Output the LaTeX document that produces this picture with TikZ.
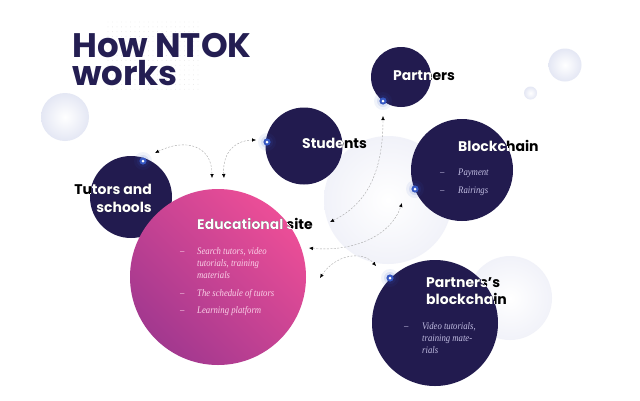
\documentclass[tikz,border=0pt]{standalone}
\usepackage{fontspec}
\newfontfamily\headfont{Poppins}
\newfontfamily\itemfont{Liberation Serif}[FakeStretch=0.87]
\usetikzlibrary{arrows.meta}
\definecolor{navy}{HTML}{221B4F}
\definecolor{titlec}{HTML}{241E52}
\definecolor{pinkA}{HTML}{EC4E97}
\definecolor{pinkB}{HTML}{A2388F}
\definecolor{itemP}{HTML}{FAD2E8}
\definecolor{itemN}{HTML}{C2BEE2}
\definecolor{dotblue}{HTML}{3557C2}
\definecolor{sphere}{HTML}{E4E7F4}
\definecolor{sphereL}{HTML}{F1F2F9}
\tikzset{
  bubble/.style={circle, draw=none, fill=navy, inner sep=0pt},
  lab/.style={font=\headfont\bfseries\fontsize{14}{16}\selectfont, inner sep=0pt, anchor=base west},
  item/.style={font=\itemfont\itshape\fontsize{10}{11}\selectfont, inner sep=0pt, anchor=base west},
  link/.style={draw=gray!70, line width=0.4pt, dash pattern=on 2pt off 1.5pt,
    {Latex[length=4pt,width=3.5pt,black]}-{Latex[length=4pt,width=3.5pt,black]}},
  ball/.style={inner color=white, outer color=sphere},
  softball/.style={inner color=white, outer color=sphereL},
}
\newcommand{\hotdot}[1]{%
  \fill[dotblue, opacity=0.07] (#1) circle (9);
  \fill[dotblue, opacity=0.12] (#1) circle (6);
  \fill[dotblue] (#1) circle (3.6);
  \fill[white] (#1) circle (1.5);}
\begin{document}
\begin{tikzpicture}[x=1pt, y=-1pt]
\useasboundingbox (0,0) rectangle (640,400);
\fill[white] (0,0) rectangle (640,400);
% dot grid behind title
\foreach \i in {0,...,20} \foreach \j in {0,...,14}
  \fill[gray!18] (108+\i*4.5, 22+\j*4.8) circle (0.45);
% decorative spheres
\shade[ball] (65,117) circle (24);
\shade[softball] (388,200) circle (64);
\shade[ball] (565,65) circle (16.5);
\shade[ball] (530.5,93) circle (6.5);
\shade[softball] (510,298) circle (42);
% title
\node[font=\headfont\bfseries\fontsize{34}{28}\selectfont, text=titlec, inner sep=0pt, anchor=base west] (title1) at (72,57) {How NTOK};
\node[font=\headfont\bfseries\fontsize{34}{28}\selectfont, text=titlec, inner sep=0pt, anchor=base west] (title2) at (72,85.5) {works};
% circles
\node[bubble, minimum size=82pt] (tutors) at (131,197) {};
\shade[left color=pinkB, right color=pinkA, shading angle=135] (218,277) circle (88);
\node[circle, inner sep=0pt, minimum size=176pt] (edu) at (218,277) {};
\node[bubble, minimum size=77pt] (students) at (304,146) {};
\node[bubble, minimum size=60pt] (partners) at (401,77) {};
\node[bubble, minimum size=102pt] (block) at (462,170) {};
\node[bubble, minimum size=126pt] (pblock) at (435,323) {};
% labels: black outside, white inside
\node[lab, anchor=base east] (t1) at (152,194) {Tutors and};
\node[lab, anchor=base east] (t2) at (152,212) {schools};
\node[lab] (e1) at (197,229) {Educational site};
\node[lab] (s1) at (302,148) {Students};
\node[lab] (p1) at (393,80) {Partners};
\node[lab] (b1) at (458,151) {Blockchain};
\node[lab] (q1) at (426,287) {Partners’s};
\node[lab] (q2) at (426,304) {blockchain};
\begin{scope}\clip (131,197) circle (41);
\node[lab, anchor=base east, text=white] (t1w) at (152,194) {Tutors and};
\node[lab, anchor=base east, text=white] (t2w) at (152,212) {schools};
\end{scope}
\begin{scope}\clip (218,277) circle (88);
\node[lab, text=white] (e1w) at (197,229) {Educational site};
\end{scope}
\begin{scope}\clip (304,146) circle (38.5);
\node[lab, text=white] (s1w) at (302,148) {Students};
\end{scope}
\begin{scope}\clip (401,77) circle (30);
\node[lab, text=white] (p1w) at (393,80) {Partners};
\end{scope}
\begin{scope}\clip (462,170) circle (51);
\node[lab, text=white] (b1w) at (458,151) {Blockchain};
\end{scope}
\begin{scope}\clip (435,323) circle (63);
\node[lab, text=white] (q1w) at (426,287) {Partners’s};
\node[lab, text=white] (q2w) at (426,304) {blockchain};
\end{scope}
% items
\begin{scope}[every node/.style={item, text=itemP}]
\node (ed1) at (180,254) {–};
\node (ei1) at (197,254) {Search tutors, video};
\node (ei1b) at (197,266) {tutorials, training};
\node (ei1c) at (197,278) {materials};
\node (ed2) at (180,296) {–};
\node (ei2) at (197,296) {The schedule of tutors};
\node (ed3) at (180,313) {–};
\node (ei3) at (197,313) {Learning platform};
\end{scope}
\begin{scope}[every node/.style={item, text=itemN}]
\node (bd1) at (440,175) {–};
\node (bi1) at (458,175) {Payment};
\node (bd2) at (440,193) {–};
\node (bi2) at (458,193) {Rairings};
\node (qd1) at (404,329) {–};
\node (qi1) at (422,329) {Video tutorials,};
\node (qi1b) at (422,341) {training mate-};
\node (qi1c) at (422,353) {rials};
\end{scope}
% connection dots
\coordinate (tdot) at (143,161);
\coordinate (sdot) at (267,142);
\coordinate (pdot) at (383,101);
\coordinate (bdot) at (415,189);
\coordinate (qdot) at (390,278);
\hotdot{tdot}
\hotdot{sdot}
\hotdot{pdot}
\hotdot{bdot}
\hotdot{qdot}
% connector end points
\coordinate (a1) at (155,153);
\coordinate (a2) at (212,178);
\coordinate (b1s) at (224,178);
\coordinate (b2s) at (256,140);
\coordinate (c1) at (330,222);
\coordinate (c2) at (383,116);
\coordinate (d1) at (309,248);
\coordinate (d2) at (402,203);
\coordinate (f1) at (320,278);
\coordinate (f2) at (376,266);
\draw[link] (a1) .. controls (185,138) and (212,145) .. (a2);
\draw[link] (b1s) .. controls (222,150) and (238,140) .. (b2s);
\draw[link] (c1) .. controls (365,205) and (383,175) .. (c2);
\draw[link] (d1) .. controls (350,252) and (390,238) .. (d2);
\draw[link] (f1) .. controls (335,255) and (362,250) .. (f2);
\end{tikzpicture}
\end{document}
